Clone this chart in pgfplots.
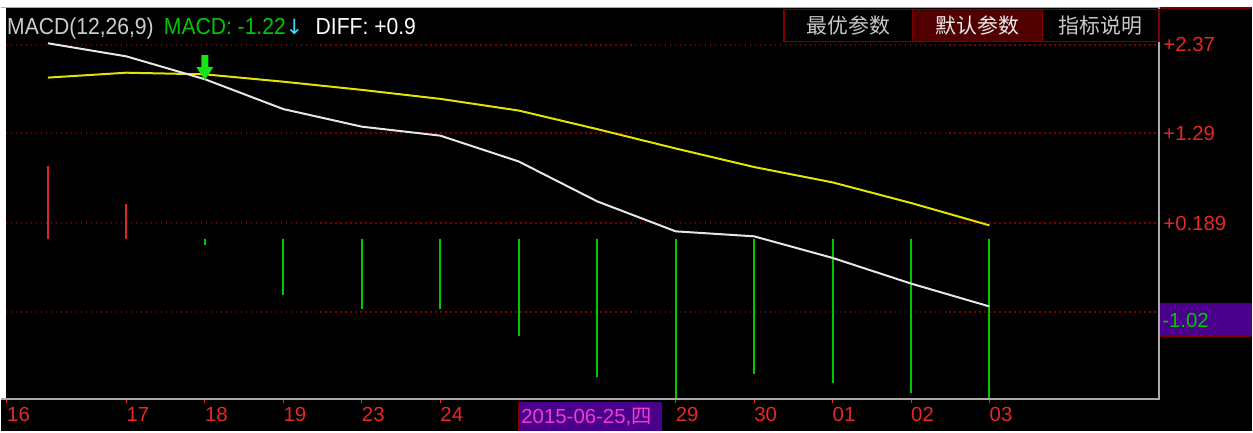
\documentclass[border=0pt]{standalone}
\usepackage{pgfplots}
\pgfplotsset{compat=1.18}
\usepackage{pgfplotstable}
\usepackage{fontspec}
\setmainfont{Liberation Sans}
\newfontfamily\cjk{Noto Sans CJK SC}
\newfontfamily\symfont{DejaVu Sans}
\newfontfamily\titlefont[FakeStretch=0.91]{Liberation Sans}

\definecolor{gridred}{RGB}{128,0,0}
\definecolor{labelred}{RGB}{230,40,40}
\definecolor{barred}{RGB}{220,40,40}
\definecolor{bargreen}{RGB}{0,200,0}
\definecolor{difwhite}{RGB}{230,230,230}
\definecolor{deayellow}{RGB}{228,228,0}
\definecolor{framegray}{RGB}{170,170,170}
\definecolor{tabred}{RGB}{128,0,0}
\definecolor{tabfill}{RGB}{80,0,0}
\definecolor{tabgray}{RGB}{200,200,200}
\definecolor{purplebox}{RGB}{75,0,140}
\definecolor{datepink}{RGB}{240,60,210}
\definecolor{titlegray}{RGB}{205,205,205}
\definecolor{macdgreen}{RGB}{0,200,0}
\definecolor{arrowcyan}{RGB}{60,220,255}
\definecolor{arrowgreen}{RGB}{20,230,20}

\pgfdeclareplotmark{sigarrow}{%
  \pgfpathmoveto{\pgfqpoint{0bp}{0bp}}%
  \pgfpathlineto{\pgfqpoint{-8.5bp}{13bp}}%
  \pgfpathlineto{\pgfqpoint{-3.5bp}{13bp}}%
  \pgfpathlineto{\pgfqpoint{-3.5bp}{25bp}}%
  \pgfpathlineto{\pgfqpoint{3.5bp}{25bp}}%
  \pgfpathlineto{\pgfqpoint{3.5bp}{13bp}}%
  \pgfpathlineto{\pgfqpoint{8.5bp}{13bp}}%
  \pgfpathclose
  \pgfusepathqfill
}

\pgfplotstableread{
k dif dea
0 2.39 1.97
1 2.23 2.03
2 1.95 2.01
3 1.585 1.92
4 1.37 1.82
5 1.26 1.71
6 0.944 1.567
7 0.456 1.34
8 0.089 1.103
9 0.028 0.876
10 -0.236 0.688
11 -0.55 0.436
12 -0.83 0.162
}\macdtab

\pgfplotstableread{
k hist
0 0.883
1 0.424
}\postab

\pgfplotstableread{
k hist
2 -0.077
3 -0.688
4 -0.867
5 -0.867
6 -1.197
7 -1.698
8 -2.03
9 -1.653
10 -1.763
11 -1.893
12 -2.05
}\negtab

\begin{document}
\begin{tikzpicture}
\begin{scope}[x=1bp,y=-1bp]
  \path[use as bounding box, fill=black] (0,0) rectangle (1253,432);
\end{scope}

\begin{axis}[
  at={(5bp,-400bp)}, anchor=south west,
  scale only axis, width=1155bp, height=393bp,
  xmin=-0.5344, xmax=14.163, ymin=-1.967, ymax=2.834,
  axis line style={draw=none},
  xtick={-0.522,1,2,3,4,5,8,9,10,11,12},
  xticklabels={16,17,18,19,23,24,29,30,01,02,03},
  xtick pos=bottom, xtick align=outside, major tick length=4bp,
  xtick style={draw=labelred, line width=1bp},
  xticklabel style={anchor=north west, inner sep=0pt, text=labelred,
    font=\fontsize{20.5}{20.5}\selectfont, yshift=-4bp},
  ytick={2.37,1.29,0.189,-0.900},
  yticklabels={+2.37,+1.29,+0.189,{}},
  ytick pos=right, yticklabel pos=right,
  ytick style={draw=none},
  yticklabel style={anchor=west, inner sep=0pt, text=labelred,
    font=\fontsize{20.5}{20.5}\selectfont, xshift=4bp},
  ymajorgrids,
  major grid style={gridred, line width=1.5bp, dash pattern=on 1.5bp off 3.5bp},
]
\addplot[ycomb, draw=barred, line width=2bp] table[x=k,y=hist]{\postab};
\addplot[ycomb, draw=bargreen, line width=2bp] table[x=k,y=hist]{\negtab};
\addplot[deayellow, line width=2bp] table[x=k,y=dea]{\macdtab};
\addplot[difwhite, line width=2bp] table[x=k,y=dif]{\macdtab};
\addplot[only marks, mark=sigarrow, color=arrowgreen] coordinates {(2,1.94)};
\end{axis}

\begin{scope}[x=1bp,y=-1bp]
  % frame
  \fill[white] (0,0) rectangle (1253,7);
  \fill[white] (0,0) rectangle (5,400);
  \draw[framegray, line width=1.2bp] (0,7.5) -- (1160,7.5);
  \draw[tabred, line width=2bp] (1160,8) -- (1253,8);
  \draw[framegray, line width=2bp] (1160,7) -- (1160,401);
  \draw[framegray, line width=2bp] (0,400) -- (1161,400);
  % tabs
  \fill[tabfill] (913,9.5) rectangle (1043,41.5);
  \draw[tabred, line width=1.5bp] (784,9.5) rectangle (1160,41.5);
  \draw[tabred, line width=1.5bp] (913,9.5) -- (913,41.5);
  \draw[tabred, line width=1.5bp] (1043,9.5) -- (1043,41.5);
  \node[text=tabgray, font=\cjk\fontsize{21}{21}\selectfont] at (848.5,25.5) {最优参数};
  \node[text=white!92!black, font=\cjk\fontsize{21}{21}\selectfont] at (978,25.5) {默认参数};
  \node[text=tabgray, font=\cjk\fontsize{21}{21}\selectfont] at (1101.5,25.5) {指标说明};
  % title
  \node[anchor=base west, inner sep=0pt, text=titlegray, font=\titlefont\fontsize{23.3}{23.3}\selectfont] at (6,35) {MACD(12,26,9)};
  \node[anchor=base west, inner sep=0pt, text=macdgreen, font=\titlefont\fontsize{23.3}{23.3}\selectfont] at (163,35) {MACD: -1.22};
  \node[anchor=base west, inner sep=0pt, text=arrowcyan, font=\symfont\fontsize{21}{21}\selectfont] at (285,35) {↓};
  \node[anchor=base west, inner sep=0pt, text=white, font=\titlefont\fontsize{23.3}{23.3}\selectfont] at (315,35) {DIFF: +0.9};
  % current value box
  \fill[purplebox] (1161,304) rectangle (1253,337);
  \draw[tabred, line width=1.5bp] (1161,304) -- (1253,304);
  \draw[tabred, line width=1.5bp] (1161,337) -- (1253,337);
  \node[anchor=west, inner sep=0pt, text=macdgreen, font=\fontsize{20.5}{20.5}\selectfont] at (1163,320.5) {-1.02};
  % date box
  \fill[purplebox] (519,403) rectangle (662,432);
  \draw[tabred, line width=1.5bp] (519,403) -- (519,432);
  \node[anchor=west, inner sep=0pt, text=datepink, font=\fontsize{20.5}{20.5}\selectfont] at (521,417.5) {2015-06-25,{\cjk 四}};
\end{scope}
\end{tikzpicture}
\end{document}
